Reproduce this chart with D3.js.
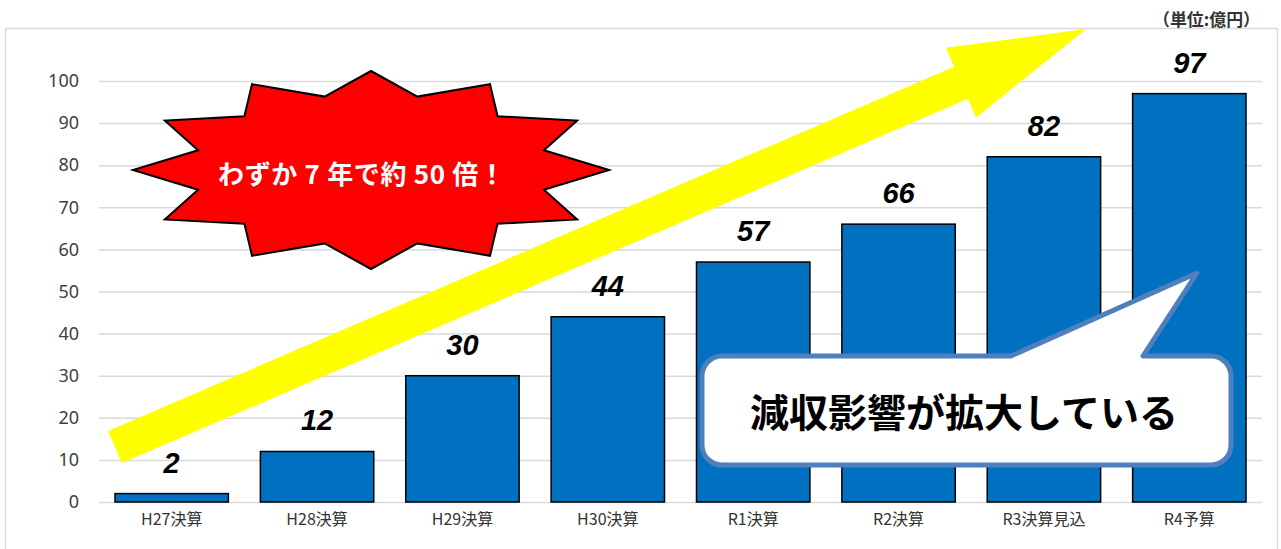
<!DOCTYPE html>
<html>
<head>
<meta charset="utf-8">
<script src="https://cdn.jsdelivr.net/npm/d3@7"></script>
<style>
  body { margin: 0; background: #fff; }
  svg { display: block; }
</style>
</head>
<body>
<div id="container"></div>
<script>
/* CONSTANTS AND GLOBALS */
const width = 1281,
  height = 549,
  margin = { top: 81, bottom: 47, left: 99, right: 19 }

const jpFont = '"Noto Sans CJK JP", "Noto Sans", sans-serif'

/* DATA */
const categories = ['H27決算', 'H28決算', 'H29決算', 'H30決算', 'R1決算', 'R2決算', 'R3決算見込', 'R4予算']
const values = [2, 12, 30, 44, 57, 66, 82, 97]
const yTicks = [0, 10, 20, 30, 40, 50, 60, 70, 80, 90, 100]
const unitLabel = '（単位:億円）'
const burstText = 'わずか 7 年で約 50 倍！'
const calloutText = '減収影響が拡大している'

// annotation shapes (pixel geometry, not data)
const arrow = { x1: 115, y1: 447, x2: 1086, y2: 29, shaft: 35, head: 76, headLen: 136 }
const burst = { cx: 371, cy: 170, rx: 238, ry: 99, irx: 179, iry: 76, points: 12 }
const callout = { x0: 702, y0: 356, x1: 1231, y1: 465, r: 20, tailL: 1011, tailR: 1143, tipX: 1197, tipY: 273 }

const data = categories.map((c, i) => ({ cat: c, value: values[i] }))

/* SCALES */
const xScale = d3.scaleBand()
  .domain(categories)
  .range([margin.left, width - margin.right])
  .paddingInner(0.22)
  .paddingOuter(0.11)

const yScale = d3.scaleLinear()
  .domain([0, 100])
  .range([height - margin.bottom, margin.top])

/* SVG */
const svg = d3.select('#container')
  .append('svg')
  .attr('width', width)
  .attr('height', height)

// chart frame
svg.append('rect')
  .attr('x', 5.5)
  .attr('y', 28.5)
  .attr('width', 1272)
  .attr('height', 560)
  .attr('fill', 'none')
  .attr('stroke', '#d9d9d9')
  .attr('stroke-width', 1.5)

// unit label
svg.append('text')
  .attr('x', 1153)
  .attr('y', 18)
  .attr('textLength', 107)
  .attr('lengthAdjust', 'spacingAndGlyphs')
  .attr('dominant-baseline', 'central')
  .style('font-family', jpFont)
  .style('font-size', '17px')
  .style('font-weight', 'bold')
  .style('fill', '#333')
  .text(unitLabel)

/* AXES */
const yAxis = d3.axisLeft(yScale)
  .tickValues(yTicks)
  .tickSize(-(width - margin.left - margin.right))
  .tickPadding(20)

svg.append('g')
  .attr('transform', `translate(${margin.left}, 0)`)
  .call(yAxis)
  .call(g => g.select('.domain').remove())
  .call(g => g.selectAll('line').attr('stroke', '#d9d9d9').attr('stroke-width', 1.5))
  .call(g => g.selectAll('text')
    .style('font-family', '"Noto Sans", sans-serif')
    .style('font-size', '18px')
    .style('fill', '#404040'))

const xAxis = d3.axisBottom(xScale)
  .tickSize(0)
  .tickPadding(12)

svg.append('g')
  .attr('transform', `translate(0, ${height - margin.bottom})`)
  .call(xAxis)
  .call(g => g.select('.domain').remove())
  .call(g => g.selectAll('text')
    .style('font-family', jpFont)
    .style('font-size', '16px')
    .style('fill', '#333'))

/* ARROW */
const dx = arrow.x2 - arrow.x1,
  dy = arrow.y2 - arrow.y1,
  len = Math.hypot(dx, dy)
const ux = dx / len, uy = dy / len
const nx = -uy, ny = ux
const neckX = arrow.x2 - ux * arrow.headLen,
  neckY = arrow.y2 - uy * arrow.headLen
const hw = arrow.shaft / 2, HW = arrow.head / 2
const arrowPts = [
  [arrow.x1 + nx * hw, arrow.y1 + ny * hw],
  [neckX + nx * hw, neckY + ny * hw],
  [neckX + nx * HW, neckY + ny * HW],
  [arrow.x2, arrow.y2],
  [neckX - nx * HW, neckY - ny * HW],
  [neckX - nx * hw, neckY - ny * hw],
  [arrow.x1 - nx * hw, arrow.y1 - ny * hw]
]

svg.append('path')
  .attr('d', d3.line()(arrowPts) + 'Z')
  .attr('fill', '#ffff00')

/* BARS */
svg.selectAll('rect.bar')
  .data(data)
  .join('rect')
  .attr('class', 'bar')
  .attr('x', d => xScale(d.cat))
  .attr('y', d => yScale(d.value))
  .attr('width', xScale.bandwidth())
  .attr('height', d => yScale(0) - yScale(d.value))
  .attr('fill', '#0070c0')
  .attr('stroke', '#000')
  .attr('stroke-width', 1.5)

svg.selectAll('text.value')
  .data(data)
  .join('text')
  .attr('class', 'value')
  .attr('x', d => xScale(d.cat) + xScale.bandwidth() / 2)
  .attr('y', d => yScale(d.value) - 21)
  .attr('text-anchor', 'middle')
  .style('font-family', '"Liberation Sans", Arial, sans-serif')
  .style('font-size', '29px')
  .style('font-weight', 'bold')
  .style('font-style', 'italic')
  .style('fill', '#000')
  .text(d => d.value)

/* STARBURST */
const burstPts = d3.range(burst.points * 2).map(k => {
  const t = k * Math.PI / burst.points
  const outer = k % 2 === 0
  const rx = outer ? burst.rx : burst.irx
  const ry = outer ? burst.ry : burst.iry
  return [burst.cx + Math.cos(t) * rx, burst.cy - Math.sin(t) * ry]
})

svg.append('path')
  .attr('d', d3.line()(burstPts) + 'Z')
  .attr('fill', '#ff0000')
  .attr('stroke', '#000')
  .attr('stroke-width', 2)
  .attr('stroke-linejoin', 'miter')

svg.append('text')
  .attr('x', 218)
  .attr('y', burst.cy + 2)
  .attr('textLength', 287)
  .attr('lengthAdjust', 'spacing')
  .attr('dominant-baseline', 'central')
  .style('font-family', jpFont)
  .style('font-size', '26px')
  .style('font-weight', 'bold')
  .style('fill', '#fff')
  .text(burstText)

/* CALLOUT */
const c = callout
const calloutPath = [
  `M${c.x0 + c.r},${c.y0}`,
  `L${c.tailL},${c.y0}`,
  `L${c.tipX},${c.tipY}`,
  `L${c.tailR},${c.y0}`,
  `L${c.x1 - c.r},${c.y0}`,
  `A${c.r},${c.r} 0 0 1 ${c.x1},${c.y0 + c.r}`,
  `L${c.x1},${c.y1 - c.r}`,
  `A${c.r},${c.r} 0 0 1 ${c.x1 - c.r},${c.y1}`,
  `L${c.x0 + c.r},${c.y1}`,
  `A${c.r},${c.r} 0 0 1 ${c.x0},${c.y1 - c.r}`,
  `L${c.x0},${c.y0 + c.r}`,
  `A${c.r},${c.r} 0 0 1 ${c.x0 + c.r},${c.y0}`,
  'Z'
].join(' ')

svg.append('path')
  .attr('d', calloutPath)
  .attr('fill', '#fff')
  .attr('stroke', '#4f7fbd')
  .attr('stroke-width', 5)
  .attr('stroke-linejoin', 'round')

svg.append('text')
  .attr('x', 964)
  .attr('y', (c.y0 + c.y1) / 2 - 1)
  .attr('text-anchor', 'middle')
  .attr('dominant-baseline', 'central')
  .style('font-family', jpFont)
  .style('font-size', '39px')
  .style('font-weight', 'bold')
  .style('fill', '#000')
  .text(calloutText)
</script>
</body>
</html>
